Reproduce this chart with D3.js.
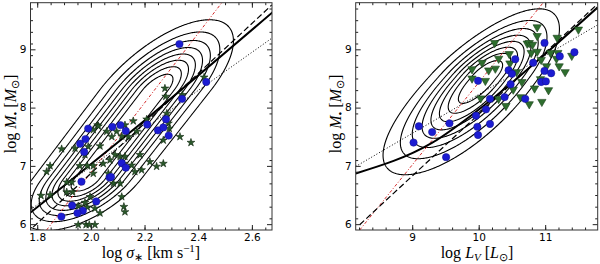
<!DOCTYPE html>
<html>
<head>
<meta charset="utf-8">
<script src="https://cdn.jsdelivr.net/npm/d3@7"></script>
<style>
  body { margin: 0; background: #fff; }
  svg { display: block; }
  .tick text { font-family: "DejaVu Sans", sans-serif; font-size: 10.5px; fill: #000; }
  .lab { font-family: "Liberation Serif", serif; font-size: 16px; fill: #000; }
</style>
</head>
<body>
<div id="chart"></div>
<script>
// ---- values ----
const sigmaTicks = [1.8, 2.0, 2.2, 2.4, 2.6];
const lumTicks = [9, 10, 11];
const massTicks = [6, 7, 8, 9];

// left panel, [log sigma, log M]
const sigmaCircles = [[2.33,9.09],[2.43,8.44],[2.34,8.15],[1.99,7.64],[2.08,7.67],[2.11,7.70],
  [2.13,7.60],[2.21,7.71],[2.28,7.80],[2.25,7.61],[2.27,7.66],[2.29,7.52],[1.98,7.46],[1.96,7.38],
  [1.975,7.24],[2.115,7.05],[2.13,6.97],[2.07,6.80],[2.075,6.81],[1.965,6.73],[2.02,6.39],[1.93,6.32],
  [1.97,6.23],[1.95,6.19],[1.89,6.13]];
const sigmaStars = [[1.848,7.00],[1.835,6.90],[1.814,6.49],[1.891,7.29],[2.025,7.70],[2.059,7.59],
  [2.096,7.59],[2.078,7.50],[2.127,7.70],[2.158,7.77],[2.115,7.51],[2.140,7.50],[2.171,7.59],
  [2.208,7.80],[2.276,8.33],[2.279,8.19],[2.341,8.22],[2.422,8.52],[2.283,7.90],[2.289,7.73],
  [2.292,7.64],[2.270,7.44],[2.332,7.50],[2.373,7.40],[2.034,7.34],[1.990,7.33],[1.978,7.19],
  [1.959,7.00],[1.987,7.00],[2.009,7.00],[2.046,7.04],[2.071,7.10],[2.090,7.19],[2.109,7.16],
  [2.127,7.16],[2.121,7.04],[2.152,7.01],[2.183,7.19],[2.220,7.07],[2.245,6.99],[2.270,7.04],
  [2.189,6.93],[2.164,6.90],[1.910,6.72],[1.929,6.72],[1.910,6.55],[1.932,6.55],[2.009,6.87],
  [2.065,6.87],[2.084,6.70],[2.109,6.70],[1.997,6.47],[1.978,6.37],[1.987,6.29],[2.015,6.27],
  [2.115,6.47],[2.127,6.21],[2.123,6.30],[1.953,5.99],[1.982,5.99],[1.994,5.99],[2.015,5.99],
  [2.034,6.19],[1.953,6.31],[1.848,6.50],[1.941,7.30],[2.009,7.62],[2.028,7.68]];

// right panel, [log L_V, log M]
const lumCircles = [[10.99,9.11],[11.22,8.88],[11.44,8.95],[10.55,8.83],[10.82,8.77],[10.99,8.63],
  [11.09,8.59],[10.45,8.64],[10.50,8.58],[10.94,8.44],[11.01,8.45],[9.99,8.46],[10.48,8.40],
  [10.39,8.18],[10.17,8.15],[10.70,8.15],[10.11,7.97],[9.96,7.86],[9.98,7.67],[10.17,7.72],
  [9.99,7.53],[9.56,7.73],[9.30,7.58],[9.10,7.68],[9.02,7.40],[9.51,7.15]];
const lumTriangles = [[10.88,9.38],[10.88,9.23],[11.18,9.20],[11.50,9.34],[10.24,9.11],[10.73,9.10],
  [10.76,9.11],[10.81,9.08],[10.79,8.94],[10.46,8.92],[10.30,8.84],[10.88,8.96],[11.08,8.94],
  [11.19,8.94],[11.40,8.89],[10.05,8.77],[10.47,8.76],[10.94,8.82],[11.17,8.84],[10.15,8.64],
  [10.25,8.67],[9.90,8.66],[10.57,8.61],[9.90,8.50],[10.10,8.46],[10.65,8.44],[10.84,8.33],
  [10.93,8.49],[10.52,8.31],[10.03,8.16],[10.30,8.15],[10.41,8.03],[10.63,8.18],[10.76,8.06],
  [10.95,8.10],[11.21,8.71],[11.02,8.71],[11.30,8.61],[11.05,8.30]];

// relations drawn in each panel
const sigmaSolid = [[1.775,6.20],[2.2,7.78],[2.678,9.64]];
const sigmaDashed = [[1.785,5.95],[2.674,9.76]];
const sigmaDotted = [[1.775,6.25],[2.674,9.19]];
const sigmaRed = [[1.835,5.9],[2.488,9.8]];
const lumSolid = [[8.15,6.87],[9.29,7.39],[10.15,8.10],[10.95,8.87],[11.79,9.72]];
const lumDashed = [[8.21,5.99],[11.79,9.78]];
const lumDotted = [[8.15,6.99],[11.79,9.42]];
const lumRed = [[8.21,5.9],[10.97,9.8]];

// contour model: scatter about the red relation, and the mass distribution
const levels = [0.111, 0.222, 0.333, 0.444, 0.556, 0.667, 0.778, 0.889];
const sigmaScatter = [[7, 0.097], [9, 0.1]];
const sigmaMassShape = [6.78, 8.3, 0.42, 0.58];   // plateau low, high, width below, width above
const lumScatter = [[7, 0.45], [9, 0.38]];
const lumMassShape = [8.45, 8.55, 0.76, 0.55];

const svg = d3.select("#chart").append("svg").attr("width", 600).attr("height", 264);

function atMass(line, m) {
  const [[x0, m0], [x1, m1]] = line;
  return x0 + (m - m0) * (x1 - x0) / (m1 - m0);
}
function massWeight(shape, m) {
  const [lo, hi, wlo, whi] = shape;
  if (m < lo) return Math.exp(-0.5 * ((lo - m) / wlo) ** 2);
  if (m > hi) return Math.exp(-0.5 * ((m - hi) / whi) ** 2);
  return 1;
}

function panel(cfg, id) {
  const x = cfg.x, y = cfg.y;
  const [left, right] = x.range(), [bottom, top] = y.range();
  const g = svg.append("g");

  svg.append("clipPath").attr("id", id)
    .append("rect").attr("x", left).attr("y", top)
    .attr("width", right - left).attr("height", bottom - top);
  const inner = g.append("g").attr("clip-path", `url(#${id})`);

  // density grid on pixels, then contours
  const gx = Math.floor(left) - 4, gy = Math.floor(top) - 4;
  const nx = Math.ceil(right - left) + 9, ny = Math.ceil(bottom - top) + 9;
  const values = new Float64Array(nx * ny);
  const scatterLine = cfg.scatter.map(d => [d[1], d[0]]);
  for (let j = 0; j < ny; j++) {
    const m = y.invert(gy + j);
    const mid = atMass(cfg.red, m), tau = Math.max(0.02, atMass(scatterLine, m));
    const w = massWeight(cfg.shape, m);
    for (let i = 0; i < nx; i++) {
      const xv = x.invert(gx + i);
      values[i + j * nx] = w * Math.exp(-0.5 * ((xv - mid) / tau) ** 2);
    }
  }
  const cs = d3.contours().size([nx, ny]).thresholds(levels)(values);
  inner.append("g").attr("transform", `translate(${gx},${gy})`)
    .selectAll("path").data(cs).join("path")
      .attr("d", d3.geoPath())
      .attr("fill", "none").attr("stroke", "#000").attr("stroke-width", 1.1);

  const line = d3.line().x(d => x(d[0])).y(d => y(d[1]));
  inner.append("path").attr("d", line(cfg.red)).attr("fill", "none")
    .attr("stroke", "#d42a2a").attr("stroke-width", 1).attr("stroke-dasharray", "3,2,1,2");
  inner.append("path").attr("d", line(cfg.dotted)).attr("fill", "none")
    .attr("stroke", "#000").attr("stroke-width", 1).attr("stroke-dasharray", "1,2");
  inner.append("path").attr("d", line(cfg.dashed)).attr("fill", "none")
    .attr("stroke", "#000").attr("stroke-width", 1.2).attr("stroke-dasharray", "6,3");
  inner.append("path").attr("d", line.curve(d3.curveMonotoneX)(cfg.solid)).attr("fill", "none")
    .attr("stroke", "#000").attr("stroke-width", 2);

  // markers
  inner.append("g").selectAll("path").data(cfg.others).join("path")
    .attr("d", d3.symbol(cfg.symbol, cfg.symbolSize))
    .attr("transform", d => `translate(${x(d[0])},${y(d[1])})` + (cfg.flip ? " rotate(180)" : ""))
    .attr("fill", cfg.otherFill).attr("stroke", cfg.otherStroke).attr("stroke-width", 0.6);
  inner.append("g").selectAll("circle").data(cfg.circles).join("circle")
    .attr("cx", d => x(d[0])).attr("cy", d => y(d[1])).attr("r", 3.7)
    .attr("fill", "#1c1cd2").attr("stroke", "#12128a").attr("stroke-width", 0.5);

  // axes with inward ticks on all sides
  const minorX = cfg.minorX, minorY = d3.range(5.9, 9.81, 0.2).map(v => +v.toFixed(2)).filter(v => v >= 6);
  const ax = (axis, scale, vals, len, fmt) => axis(scale).tickValues(vals).tickSize(-len).tickPadding(4).tickFormat(fmt);
  const blank = () => "";
  const addAxis = (a, tr) => { const s = g.append("g").attr("transform", tr).call(a); s.select(".domain").remove(); s.selectAll("line").attr("stroke", "#222"); return s; };
  addAxis(ax(d3.axisBottom, x, cfg.ticks, 5, cfg.fmt), `translate(0,${bottom})`);
  addAxis(ax(d3.axisBottom, x, minorX, 2.5, blank), `translate(0,${bottom})`);
  addAxis(ax(d3.axisTop, x, cfg.ticks, 5, blank), `translate(0,${top})`);
  addAxis(ax(d3.axisTop, x, minorX, 2.5, blank), `translate(0,${top})`);
  addAxis(ax(d3.axisLeft, y, massTicks, 5, d3.format("d")), `translate(${left},0)`);
  addAxis(ax(d3.axisLeft, y, minorY, 2.5, blank), `translate(${left},0)`);
  addAxis(ax(d3.axisRight, y, massTicks, 5, blank), `translate(${right},0)`);
  addAxis(ax(d3.axisRight, y, minorY, 2.5, blank), `translate(${right},0)`);
  g.selectAll(".tick text").attr("fill", "#000");

  g.append("rect").attr("x", left).attr("y", top).attr("width", right - left).attr("height", bottom - top)
    .attr("fill", "none").attr("stroke", "#333").attr("stroke-width", 1);
  return g;
}

const yMass = d3.scaleLinear().domain([5.9, 9.8]).range([230, 2.7]);
const xSigma = d3.scaleLinear().domain([1.775, 2.675]).range([30.5, 272]);
const xLum = d3.scaleLinear().domain([8.15, 11.79]).range([355.7, 597.7]);

panel({
  x: xSigma, y: yMass, ticks: sigmaTicks, fmt: d3.format(".1f"),
  minorX: d3.range(1.8, 2.676, 0.05).map(v => +v.toFixed(2)),
  red: sigmaRed, solid: sigmaSolid, dashed: sigmaDashed, dotted: sigmaDotted,
  scatter: sigmaScatter, shape: sigmaMassShape,
  circles: sigmaCircles, others: sigmaStars, symbol: d3.symbolStar, symbolSize: 19, flip: false,
  otherFill: "#2a582a", otherStroke: "#112811"
}, "clipL");

panel({
  x: xLum, y: yMass, ticks: lumTicks, fmt: d3.format("d"),
  minorX: d3.range(8.2, 11.79, 0.2).map(v => +v.toFixed(2)),
  red: lumRed, solid: lumSolid, dashed: lumDashed, dotted: lumDotted,
  scatter: lumScatter, shape: lumMassShape,
  circles: lumCircles, others: lumTriangles, symbol: d3.symbolTriangle, symbolSize: 30, flip: true,
  otherFill: "#2e6e2e", otherStroke: "#1a401a"
}, "clipR");

// axis labels
function label(parts, x, y, rotate) {
  const t = svg.append("text").attr("class", "lab").attr("text-anchor", "middle")
    .attr("transform", `translate(${x},${y})` + (rotate ? " rotate(-90)" : ""));
  parts.forEach(p => {
    const s = t.append("tspan").text(p.t);
    if (p.i) s.attr("font-style", "italic");
    if (p.dy) s.attr("dy", p.dy).attr("font-size", "11px");
    if (p.back) s.attr("dy", p.back);
  });
}
label([{t: "log "}, {t: "σ", i: 1}, {t: "∗", dy: 3}, {t: " [km s", back: -3}, {t: "−1", dy: -6}, {t: "]", back: 6}], 151, 258);
label([{t: "log "}, {t: "L", i: 1}, {t: "V", i: 1, dy: 3}, {t: " [", back: -3}, {t: "L", i: 1}, {t: "⊙", dy: 3}, {t: "]", back: -3}], 477, 258);
label([{t: "log "}, {t: "M", i: 1}, {t: "•", dy: 3}, {t: " [", back: -3}, {t: "M", i: 1}, {t: "⊙", dy: 3}, {t: "]", back: -3}], 16, 114, true);
label([{t: "log "}, {t: "M", i: 1}, {t: "•", dy: 3}, {t: " [", back: -3}, {t: "M", i: 1}, {t: "⊙", dy: 3}, {t: "]", back: -3}], 341, 114, true);
</script>
</body>
</html>
